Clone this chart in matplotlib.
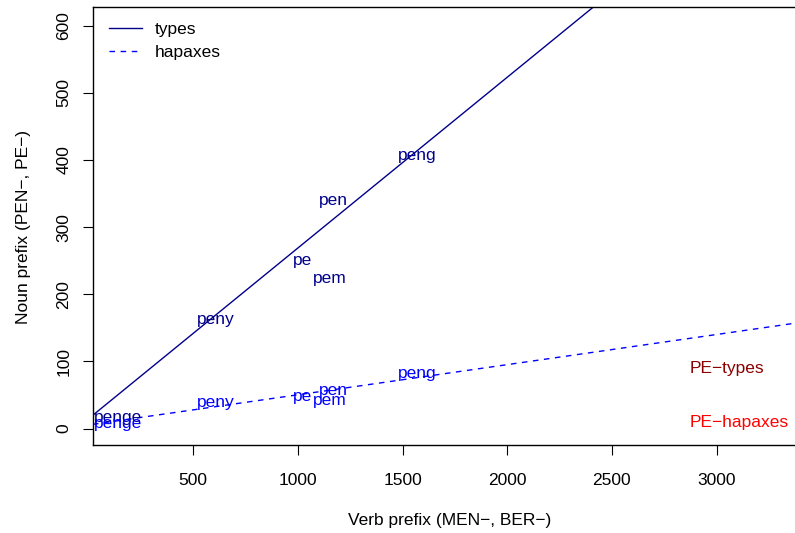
import matplotlib
matplotlib.use("Agg")
import matplotlib.pyplot as plt
import numpy as np

plt.rcParams['font.family'] = ['Liberation Sans', 'DejaVu Sans']

# Prefix labels and their counts (verb prefix counts on x, noun prefix counts on y)
prefixes = ["penge", "peny", "pe", "pem", "pen", "peng"]
verb_counts = [141, 609, 1020, 1154, 1168, 1569]
noun_types = [16, 163, 251, 223, 340, 407]
noun_hapaxes = [7, 39, 48, 42, 57, 82]

# Fitted lines: intercept, slope
types_fit = [14.7, 0.2543]
hapax_fit = [5.4, 0.0449]

# Annotation positions for the PE-group labels (left-aligned)
pe_labels = ["PE\u2212types", "PE\u2212hapaxes"]
pe_x = [2873, 2873]
pe_y = [89, 9]
pe_colors = ["#8B0000", "#FF0000"]

xticks = [500, 1000, 1500, 2000, 2500, 3000]
yticks = [0, 100, 200, 300, 400, 500, 600]

FS = 12.5
W, H = 795, 533
fig = plt.figure(figsize=(W / 100, H / 100), dpi=100)
left, right, top, bottom = 93, 820, 7, 445
ax = fig.add_axes([left / W, 1 - bottom / H, (right - left) / W, (bottom - top) / H])

xlim = (21, 21 + (right - left) / 0.2093)
ylim = (-24.5, 628)
ax.set_xlim(*xlim)
ax.set_ylim(*ylim)

xs = np.array(xlim)
ax.plot(xs, types_fit[0] + types_fit[1] * xs, color="#00008B", lw=1.0, label="types")
ax.plot(xs, hapax_fit[0] + hapax_fit[1] * xs, color="#0000FF", lw=1.0,
        linestyle=(0, (4, 4)), label="hapaxes")

for name, vx, ty, hy in zip(prefixes, verb_counts, noun_types, noun_hapaxes):
    ax.text(vx, ty, name, color="#00008B", fontsize=FS, ha="center", va="center")
    ax.text(vx, hy, name, color="#0000FF", fontsize=FS, ha="center", va="center")

for lab, px, py, c in zip(pe_labels, pe_x, pe_y, pe_colors):
    ax.text(px, py, lab, color=c, fontsize=FS, ha="left", va="center")

ax.set_xticks(xticks)
ax.set_yticks(yticks)
ax.tick_params(axis="both", direction="out", length=7.2, width=0.8, labelsize=FS,
               color="black")
ax.tick_params(axis="x", pad=13)
ax.tick_params(axis="y", pad=8.5, labelrotation=90)
for lbl in ax.get_yticklabels():
    lbl.set_va("center")

for sp in ax.spines.values():
    sp.set_linewidth(1.0)

ax.set_xlabel("Verb prefix (MEN\u2212, BER\u2212)", fontsize=FS)
ax.set_ylabel("Noun prefix (PEN\u2212, PE\u2212)", fontsize=FS)
ax.xaxis.label.set_va("center")
ax.yaxis.label.set_va("center")
ax.xaxis.set_label_coords((450 - left) / (right - left), -(521 - bottom) / (bottom - top))
ax.yaxis.set_label_coords(-(left - 24) / (right - left), (bottom - 227) / (bottom - top))

ax.legend(loc="upper left", bbox_to_anchor=(16 / (right - left), 1 - 14.5 / (bottom - top)),
          frameon=False, fontsize=FS, handlelength=1.9, handletextpad=0.75,
          labelspacing=0.45, borderpad=0, borderaxespad=0)

fig.savefig("out.png", dpi=100)
